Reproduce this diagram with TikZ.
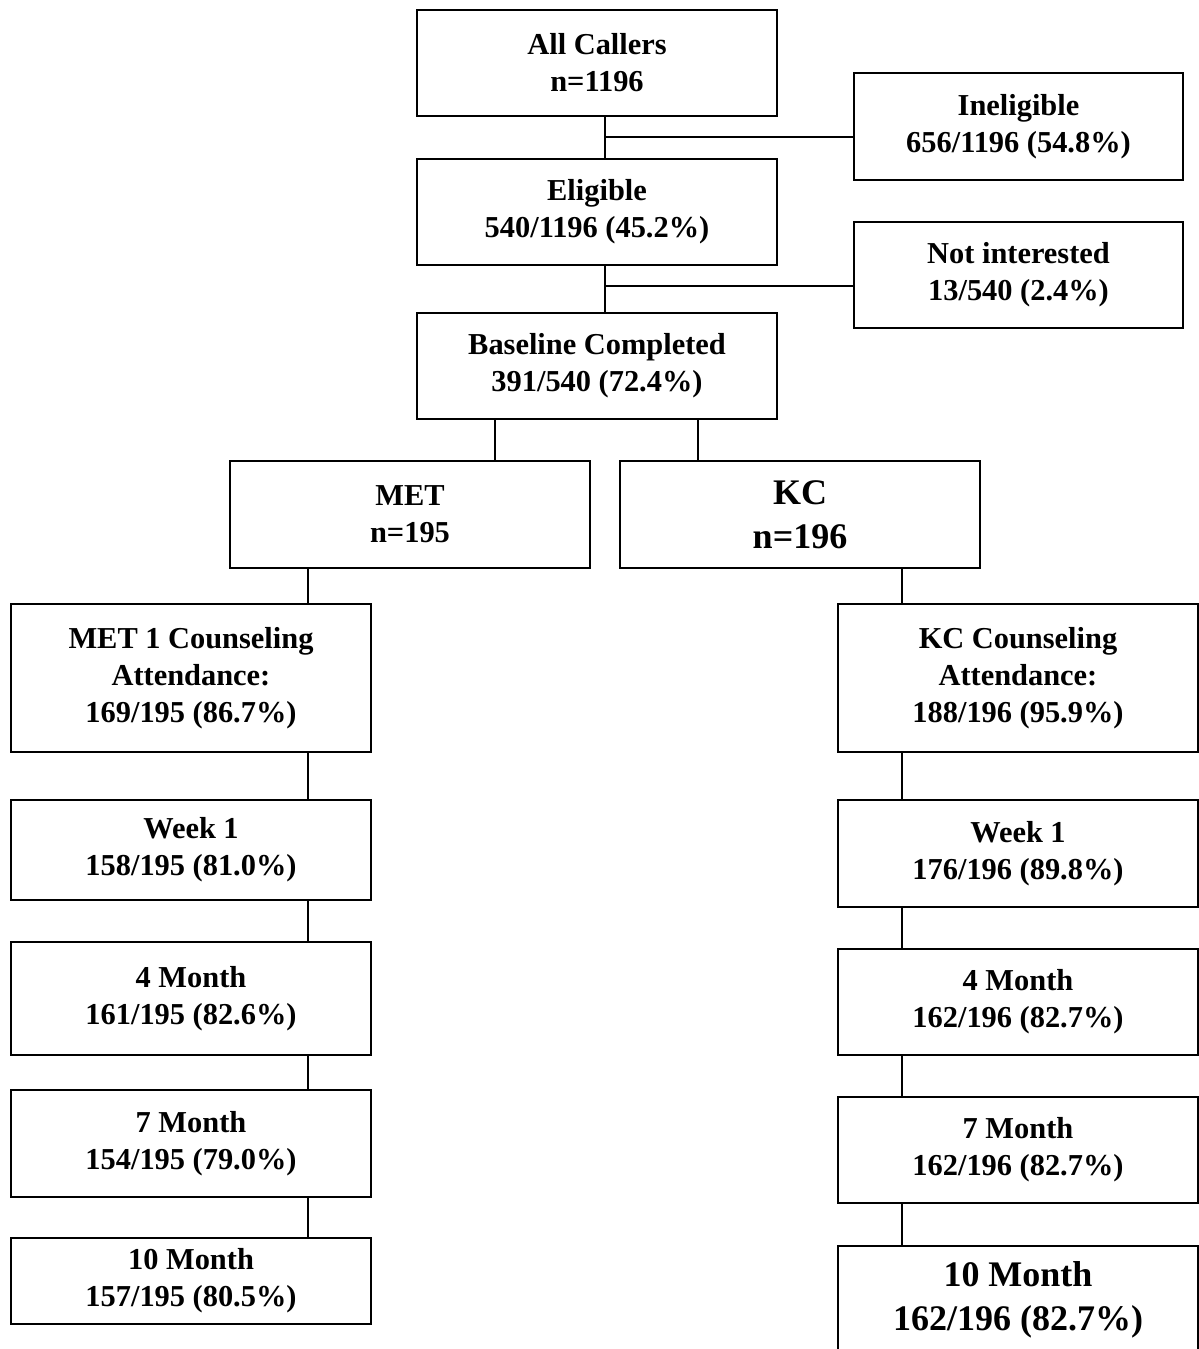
\documentclass[tikz,border=0pt]{standalone}
\usepackage{fontspec}
\setmainfont{Liberation Serif}

\tikzset{
  flowbox/.style={draw, line width=1pt, minimum width=180pt, align=center, inner sep=0pt},
  sidebox/.style={flowbox, minimum width=164.5pt},
  bigtext/.style={font=\bfseries\fontsize{18}{22}\selectfont},
  link/.style={line width=1pt}
}

\begin{document}
\begin{tikzpicture}[x=0.5pt, y=-0.5pt, font=\bfseries\fontsize{15.2}{18.5}\selectfont]
\useasboundingbox (0,0) rectangle (1199,1349);
% screening
\node[flowbox, minimum height=53pt] (allc) at (597,63) {All Callers\\n=1196};
\node[sidebox, minimum height=53.5pt] (inel) at (1018.5,126.5) {Ineligible\\656/1196 (54.8\%)};
\node[flowbox, minimum height=53pt] (elig) at (597,212) {Eligible\\540/1196 (45.2\%)};
\node[sidebox, minimum height=53pt] (notint) at (1018.5,275) {Not interested\\13/540 (2.4\%)};
\node[flowbox, minimum height=53pt] (base) at (597,366) {Baseline Completed\\391/540 (72.4\%)};
% arms
\node[flowbox, minimum height=53.5pt] (met) at (410,514.5) {MET\\n=195};
\node[flowbox, minimum height=53.5pt, bigtext] (kc) at (800,514.5) {KC\\n=196};
% MET follow-up
\node[flowbox, minimum height=74pt] (met1) at (191,678) {MET 1 Counseling\\Attendance:\\169/195 (86.7\%)};
\node[flowbox, minimum height=50pt] (wk1l) at (191,850) {Week 1\\158/195 (81.0\%)};
\node[flowbox, minimum height=56.5pt] (m4l) at (191,998.5) {4 Month\\161/195 (82.6\%)};
\node[flowbox, minimum height=53.5pt] (m7l) at (191,1143.5) {7 Month\\154/195 (79.0\%)};
\node[flowbox, minimum height=43pt] (m10l) at (191,1281) {10 Month\\157/195 (80.5\%)};
% KC follow-up
\node[flowbox, minimum height=74pt] (kc1) at (1018,678) {KC Counseling\\Attendance:\\188/196 (95.9\%)};
\node[flowbox, minimum height=53.5pt] (wk1r) at (1018,853.5) {Week 1\\176/196 (89.8\%)};
\node[flowbox, minimum height=53pt] (m4r) at (1018,1002) {4 Month\\162/196 (82.7\%)};
\node[flowbox, minimum height=53pt] (m7r) at (1018,1150) {7 Month\\162/196 (82.7\%)};
\node[flowbox, minimum height=54pt, bigtext] (m10r) at (1018,1300) {10 Month\\162/196 (82.7\%)};
% junctions
\coordinate (j1) at (605,137);
\coordinate (j2) at (605,286);
\coordinate (lspine) at (308,0);
\coordinate (rspine) at (902,0);
% connectors
\draw[link] (allc.south -| j1) -- (elig.north -| j1);
\draw[link] (j1) -- (j1 -| inel.west);
\draw[link] (elig.south -| j2) -- (base.north -| j2);
\draw[link] (j2) -- (j2 -| notint.west);
\draw[link] ([xshift=-51pt]base.south) -- ([xshift=-51pt]base.south |- met.north);
\draw[link] ([xshift=50.5pt]base.south) -- ([xshift=50.5pt]base.south |- kc.north);
\draw[link] (met.south -| lspine) -- (met1.north -| lspine);
\draw[link] (met1.south -| lspine) -- (wk1l.north -| lspine);
\draw[link] (wk1l.south -| lspine) -- (m4l.north -| lspine);
\draw[link] (m4l.south -| lspine) -- (m7l.north -| lspine);
\draw[link] (m7l.south -| lspine) -- (m10l.north -| lspine);
\draw[link] (kc.south -| rspine) -- (kc1.north -| rspine);
\draw[link] (kc1.south -| rspine) -- (wk1r.north -| rspine);
\draw[link] (wk1r.south -| rspine) -- (m4r.north -| rspine);
\draw[link] (m4r.south -| rspine) -- (m7r.north -| rspine);
\draw[link] (m7r.south -| rspine) -- (m10r.north -| rspine);
\end{tikzpicture}
\end{document}
